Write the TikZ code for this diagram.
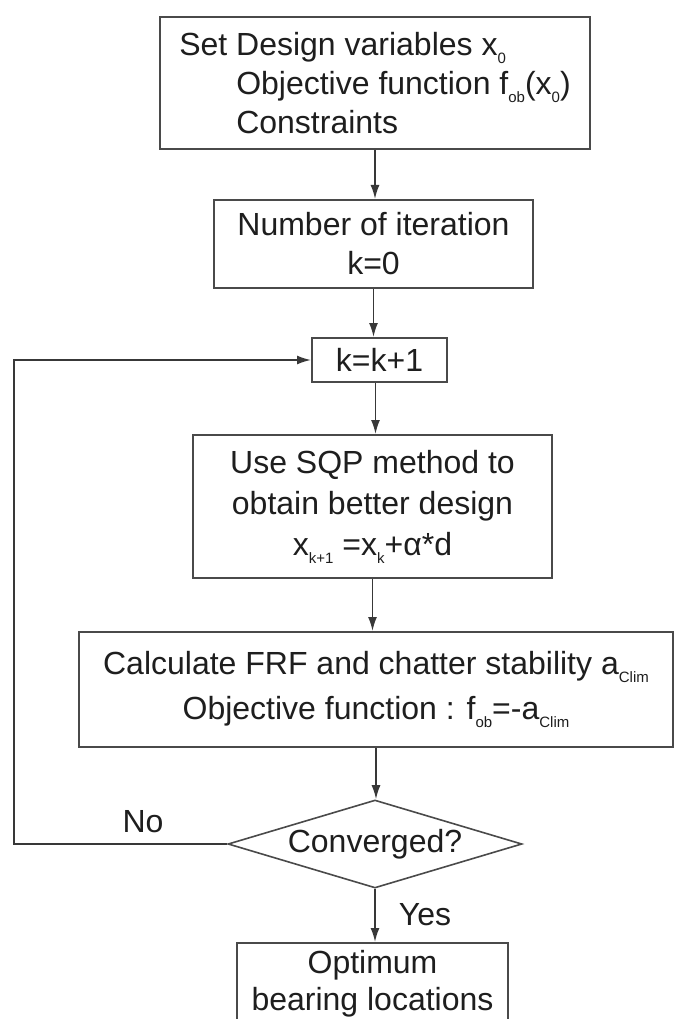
\documentclass[tikz,border=0pt]{standalone}
\usepackage{fontspec}
\setmainfont{Liberation Sans}
\usetikzlibrary{arrows.meta,shapes.geometric}
\newcommand\sbs[1]{\raisebox{-0.25em}{\fontsize{15}{15}\selectfont #1}}
\definecolor{linegray}{HTML}{383838}
\definecolor{boxgray}{HTML}{4A4A4A}
\definecolor{textgray}{HTML}{1E1E1E}
\tikzset{
  flowbox/.style={draw=boxgray, line width=2pt, fill=white, inner sep=0pt,
    align=center, text=textgray, font=\fontsize{32}{39}\selectfont},
  flowdiamond/.style={diamond, draw=boxgray, line width=1.6pt, fill=white, inner sep=0pt,
    shape aspect=3.3, text=textgray, font=\fontsize{32}{39}\selectfont},
  flowlabel/.style={text=textgray, inner sep=0pt, font=\fontsize{32}{39}\selectfont},
  arr/.style={draw=linegray, line width=1.7pt, -{Latex[length=14pt,width=9pt]}},
}
\begin{document}
\begin{tikzpicture}[x=1pt,y=-1pt]
\useasboundingbox (0,0) rectangle (675,1019);
\clip (0,0) rectangle (675,1019);
\fill[white] (0,0) rectangle (675,1019);

\node[flowbox, align=left, minimum width=430pt, minimum height=132pt] (n1) at (375,83)
  {Set Design variables x\sbs{0}\\
   \hspace*{57pt}Objective function f\sbs{ob}(x\sbs{0})\\
   \hspace*{57pt}Constraints};
\node[flowbox, minimum width=319pt, minimum height=88pt] (n2) at (373.5,244)
  {Number of iteration\\k=0};
\node[flowbox, minimum width=135pt, minimum height=44pt] (n3) at (379.5,360)
  {k=k+1};
\node[flowbox, minimum width=359pt, minimum height=143pt, font=\fontsize{32}{41}\selectfont] (n4) at (372.5,506.5)
  {Use SQP method to\\obtain better design\\x\sbs{k+1} =x\sbs{k}+α*d};
\node[flowbox, minimum width=594pt, minimum height=115pt, font=\fontsize{32}{45}\selectfont] (n5) at (376,689.5)
  {Calculate FRF and chatter stability a\sbs{Clim}\\Objective function : f\sbs{ob}=-a\sbs{Clim}};
\node[flowdiamond, minimum width=294pt, minimum height=88pt] (n6) at (375,844)
  {Converged?};
\node[flowbox, minimum width=271pt, minimum height=81pt, font=\fontsize{32}{37}\selectfont] (n7) at (372.5,983.5)
  {Optimum\\bearing locations};

\node[flowlabel] (no) at (143,822) {No};
\node[flowlabel] (yes) at (425,915) {Yes};

\coordinate (lp) at (14,844);

\draw[arr] (n1.south) -- (n1.south |- n2.north);
\draw[arr] (n2.south) -- (n2.south |- n3.north);
\draw[arr] ([xshift=-4pt]n3.south) -- ([xshift=-4pt]n3.south |- n4.north);
\draw[arr] (n4.south) -- (n4.south |- n5.north);
\draw[arr] (n5.south) -- (n5.south |- n6.north);
\draw[arr] (n6.south) -- (n6.south |- n7.north);
\draw[arr] (n6.west) -- (lp) |- (n3.west);
\end{tikzpicture}
\end{document}
